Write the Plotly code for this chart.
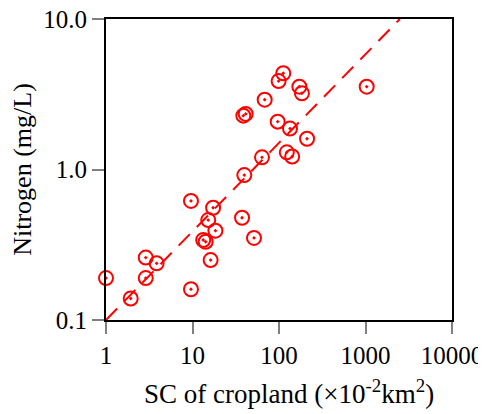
import plotly.graph_objects as go

# Data
sc_cropland = [1.0, 1.93, 2.88, 2.88, 3.85, 9.6, 9.6, 13.3, 14.2, 15.2,
               16.2, 17.3, 18.4, 37.4, 51.4, 39.7, 38.7, 41.2, 63.6, 68.3,
               96.6, 99.0, 112, 123, 134, 142, 172, 184, 211, 1032]
nitrogen = [0.19, 0.139, 0.26, 0.19, 0.238, 0.618, 0.16, 0.34, 0.331, 0.461,
            0.25, 0.557, 0.392, 0.478, 0.351, 0.918, 2.28, 2.34, 1.205, 2.91,
            2.08, 3.87, 4.36, 1.30, 1.87, 1.22, 3.55, 3.21, 1.60, 3.55]

fit_x = [1, 2500]
fit_y = [0.1, 10.0]

x_ticks = [1, 10, 100, 1000, 10000]
x_ticktext = ["1", "10", "100", "1000", "10000"]
y_ticks = [0.1, 1, 10]
y_ticktext = ["0.1", "1.0", "10.0"]

x_title = "SC of cropland (×10<sup>-2</sup>km<sup>2</sup>)"
y_title = "Nitrogen (mg/L)"

FONT = "Liberation Serif"
FS = 25

fig = go.Figure()
fig.add_trace(go.Scatter(
    x=fit_x, y=fit_y, mode="lines",
    line=dict(color="red", width=2, dash="16px,10px"),
    showlegend=False, hoverinfo="skip"))
fig.add_trace(go.Scatter(
    x=sc_cropland, y=nitrogen, mode="markers",
    marker=dict(symbol="circle-open-dot", size=14, color="red",
                line=dict(color="red", width=2)),
    cliponaxis=False, showlegend=False))

# page body adds an 8px offset; margins compensate for it
fig.update_layout(
    width=486, height=414,
    margin=dict(l=98, r=42, t=11, b=102),
    paper_bgcolor="white", plot_bgcolor="white",
    font=dict(family=FONT, size=FS, color="black"),
)
fig.add_annotation(
    text=x_title, xref="paper", yref="paper", x=0.53, y=-0.238,
    xanchor="center", yanchor="middle", showarrow=False,
    font=dict(family=FONT, size=27, color="black"),
)
fig.update_xaxes(
    type="log", range=[0, 4], automargin=False, ticklabeloverflow="allow",
    tickvals=x_ticks, ticktext=x_ticktext,
    showgrid=False, zeroline=False,
    showline=True, linecolor="black", linewidth=2, mirror=True,
    ticks="outside", ticklen=12, tickwidth=1.5, tickcolor="gray",
    tickfont=dict(family=FONT, size=FS),
)
fig.update_yaxes(
    type="log", range=[-1, 1], automargin=False, ticklabeloverflow="allow",
    tickvals=y_ticks, ticktext=y_ticktext,
    showgrid=False, zeroline=False,
    showline=True, linecolor="black", linewidth=2, mirror=True,
    ticks="outside", ticklen=12, tickwidth=1.5, tickcolor="gray",
    tickfont=dict(family=FONT, size=FS),
    title=dict(text=y_title, font=dict(family=FONT, size=26), standoff=12),
)

fig.write_html("out.html")
